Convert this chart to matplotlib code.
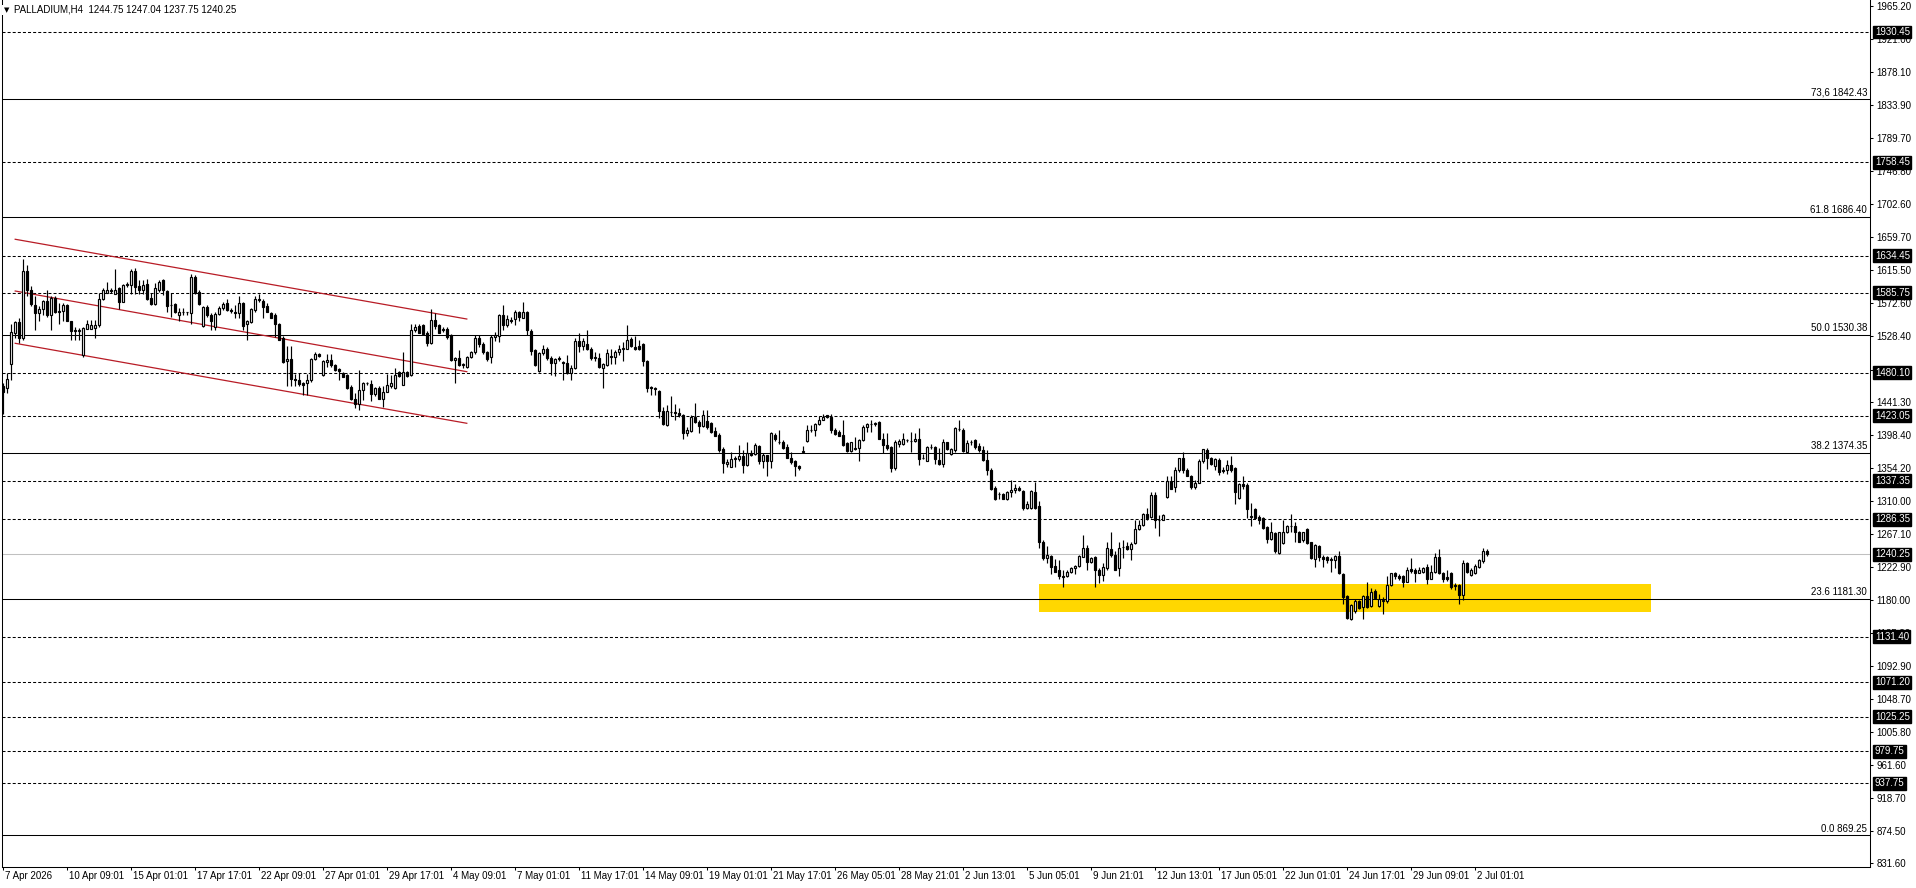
import numpy as np
import matplotlib
matplotlib.use('Agg')
import matplotlib.pyplot as plt
from matplotlib.patches import Rectangle

plt.rcParams['font.family'] = ['Liberation Sans', 'DejaVu Sans']
plt.rcParams['font.size'] = 7

# PALLADIUM H4 candles (open, high, low, close)
opens = [
    1462,1460,1492,1532,1547,1526,1614,1589,1570,1559,1564,1575,
    1556,1579,1560,1562,1569,1548,1536,1535,1503,1538,1538,1539,
    1543,1577,1586,1590,1584,1592,1574,1596,1596,1615,1595,1589,
    1597,1579,1571,1590,1602,1588,1570,1571,1556,1561,1560,1559,
    1606,1587,1542,1567,1556,1541,1558,1565,1572,1563,1560,1559,
    1572,1545,1547,1563,1577,1575,1568,1559,1556,1545,1526,1495,
    1498,1472,1471,1466,1466,1471,1498,1505,1477,1494,1497,1490,
    1485,1480,1477,1461,1446,1439,1457,1466,1465,1452,1460,1446,
    1455,1463,1460,1481,1464,1481,1477,1536,1542,1543,1533,1519,
    1550,1543,1536,1538,1530,1497,1500,1490,1488,1501,1508,1526,
    1518,1507,1501,1527,1528,1556,1543,1550,1551,1560,1553,1561,
    1535,1510,1483,1506,1512,1500,1493,1499,1494,1493,1480,1486,
    1522,1515,1518,1512,1500,1500,1487,1490,1502,1501,1508,1512,
    1512,1525,1514,1516,1518,1496,1461,1460,1456,1430,1411,1428,
    1428,1427,1424,1401,1403,1422,1415,1410,1416,1414,1403,1398,
    1379,1360,1355,1367,1366,1370,1358,1374,1373,1383,1363,1371,
    1363,1398,1389,1389,1382,1367,1363,1357,1376,1390,1404,1404,
    1412,1418,1424,1422,1404,1402,1398,1387,1377,1379,1380,1391,
    1409,1412,1413,1415,1393,1385,1382,1354,1386,1386,1391,1390,
    1390,1393,1367,1363,1382,1382,1365,1360,1388,1373,1378,1406,
    1405,1376,1388,1391,1383,1378,1365,1352,1328,1320,1320,1313,
    1322,1325,1328,1324,1301,1301,1323,1304,1257,1235,1238,1225,
    1219,1212,1211,1217,1222,1225,1237,1249,1230,1236,1220,1213,
    1222,1247,1239,1222,1250,1251,1247,1255,1273,1279,1293,1289,
    1319,1286,1286,1316,1337,1329,1351,1367,1352,1343,1329,1335,
    1363,1378,1367,1357,1365,1351,1351,1358,1354,1314,1333,1332,
    1290,1300,1290,1288,1276,1261,1268,1242,1255,1269,1277,1278,
    1270,1259,1273,1256,1234,1251,1236,1236,1234,1233,1238,1214,
    1185,1154,1165,1178,1171,1185,1172,1191,1172,1179,1179,1200,
    1215,1211,1211,1204,1221,1219,1216,1217,1224,1208,1217,1237,
    1215,1210,1215,1200,1200,1186,1228,1213,1215,1223,1231,1244.75,
]
highs = [
    1466,1480,1545,1549,1553,1631,1622,1595,1581,1568,1576,1589,
    1581,1581,1572,1572,1571,1549,1540,1539,1540,1550,1550,1550,
    1585,1592,1600,1592,1617,1593,1598,1600,1617,1618,1603,1603,
    1604,1585,1599,1603,1604,1590,1585,1572,1565,1565,1561,1611,
    1609,1590,1568,1570,1559,1560,1568,1574,1577,1565,1570,1582,
    1574,1550,1565,1581,1584,1577,1572,1560,1559,1546,1528,1515,
    1515,1479,1480,1468,1479,1499,1508,1506,1497,1505,1505,1492,
    1486,1481,1479,1464,1453,1484,1468,1468,1471,1461,1463,1462,
    1479,1477,1486,1483,1508,1483,1545,1544,1545,1545,1535,1564,
    1559,1545,1540,1541,1531,1501,1510,1493,1502,1509,1530,1530,
    1521,1509,1530,1534,1558,1570,1556,1554,1563,1562,1573,1562,
    1538,1512,1508,1517,1514,1502,1499,1502,1496,1503,1490,1526,
    1532,1526,1537,1514,1508,1506,1493,1511,1511,1510,1517,1521,
    1543,1527,1529,1523,1520,1497,1462,1461,1457,1435,1437,1449,
    1439,1433,1426,1409,1424,1440,1418,1431,1431,1415,1409,1400,
    1382,1366,1376,1370,1385,1378,1388,1378,1387,1384,1374,1372,
    1402,1400,1404,1391,1386,1376,1365,1358,1383,1411,1411,1414,
    1423,1426,1424,1426,1407,1404,1418,1388,1389,1395,1393,1411,
    1414,1418,1415,1416,1400,1400,1383,1391,1393,1401,1393,1402,
    1400,1407,1373,1383,1386,1383,1380,1392,1389,1380,1408,1417,
    1407,1391,1391,1393,1387,1383,1378,1354,1330,1323,1321,1324,
    1339,1333,1330,1325,1310,1325,1336,1310,1259,1251,1239,1234,
    1233,1219,1219,1223,1226,1239,1266,1252,1237,1238,1222,1228,
    1257,1269,1244,1257,1259,1257,1256,1286,1285,1295,1301,1322,
    1322,1292,1293,1343,1343,1355,1368,1375,1354,1345,1338,1366,
    1379,1380,1369,1367,1367,1356,1365,1370,1356,1335,1343,1334,
    1308,1301,1292,1289,1277,1283,1269,1270,1286,1279,1293,1283,
    1271,1270,1275,1257,1254,1253,1239,1238,1237,1239,1244,1215,
    1186,1175,1181,1180,1186,1204,1195,1194,1188,1184,1212,1216,
    1217,1214,1213,1224,1235,1222,1224,1224,1227,1226,1242,1247,
    1217,1219,1217,1202,1201,1233,1230,1222,1227,1234,1249,1247.04,
]
lows = [
    1426,1453,1471,1526,1519,1524,1581,1568,1537,1549,1556,1554,
    1537,1559,1545,1548,1548,1523,1523,1523,1501,1538,1538,1526,
    1541,1576,1585,1585,1584,1564,1573,1593,1584,1584,1584,1584,
    1576,1570,1570,1587,1583,1561,1554,1559,1549,1556,1556,1545,
    1584,1570,1541,1554,1536,1537,1556,1563,1562,1559,1552,1552,
    1536,1524,1546,1561,1574,1553,1560,1552,1527,1523,1493,1462,
    1462,1462,1463,1451,1451,1468,1497,1501,1476,1488,1488,1482,
    1471,1474,1458,1444,1433,1431,1444,1464,1443,1450,1445,1435,
    1454,1460,1458,1475,1464,1475,1476,1534,1532,1531,1515,1518,
    1538,1532,1534,1525,1495,1467,1489,1487,1487,1500,1505,1514,
    1505,1495,1493,1522,1521,1537,1540,1546,1543,1548,1552,1530,
    1504,1489,1481,1504,1497,1477,1476,1496,1470,1478,1471,1485,
    1508,1510,1510,1497,1495,1486,1460,1489,1492,1492,1503,1496,
    1511,1514,1510,1510,1489,1454,1451,1451,1420,1411,1410,1423,
    1417,1422,1392,1396,1402,1414,1401,1409,1406,1401,1396,1376,
    1347,1355,1355,1356,1364,1347,1357,1370,1371,1360,1354,1344,
    1354,1390,1386,1379,1367,1360,1344,1352,1375,1389,1402,1396,
    1411,1417,1420,1401,1398,1396,1383,1376,1376,1378,1364,1390,
    1402,1402,1410,1392,1374,1378,1349,1352,1382,1385,1388,1376,
    1389,1358,1366,1363,1379,1360,1358,1355,1378,1371,1376,1403,
    1376,1374,1385,1379,1376,1363,1345,1325,1312,1313,1313,1312,
    1316,1321,1324,1299,1300,1300,1300,1249,1233,1229,1214,1217,
    1208,1197,1210,1215,1214,1224,1236,1220,1228,1197,1202,1205,
    1220,1237,1220,1211,1235,1246,1233,1254,1272,1278,1286,1288,
    1275,1264,1285,1315,1327,1322,1349,1348,1343,1327,1326,1334,
    1361,1353,1358,1352,1345,1347,1346,1349,1307,1313,1327,1288,
    1277,1288,1280,1274,1255,1259,1242,1241,1254,1268,1269,1257,
    1256,1257,1254,1234,1223,1231,1223,1229,1217,1222,1214,1175,
    1154,1153,1163,1168,1154,1169,1170,1182,1171,1161,1176,1198,
    1207,1206,1197,1203,1215,1204,1215,1215,1201,1207,1216,1214,
    1203,1205,1194,1193,1175,1180,1216,1212,1214,1222,1229,1237.75,
]
closes = [
    1455,1472,1534,1547,1526,1615,1589,1571,1559,1564,1575,1556,
    1579,1560,1562,1569,1548,1535,1535,1537,1539,1544,1543,1543,
    1578,1589,1590,1588,1590,1574,1596,1598,1615,1594,1589,1596,
    1577,1571,1592,1600,1589,1568,1569,1560,1561,1560,1560,1606,
    1585,1571,1567,1556,1548,1558,1566,1571,1563,1562,1559,1572,
    1542,1549,1564,1577,1576,1567,1561,1553,1545,1524,1494,1498,
    1472,1471,1465,1464,1471,1498,1505,1502,1495,1497,1490,1484,
    1482,1475,1460,1445,1439,1457,1467,1466,1452,1460,1446,1455,
    1464,1467,1477,1476,1481,1476,1537,1540,1533,1531,1519,1550,
    1542,1533,1538,1527,1497,1500,1490,1491,1501,1508,1526,1518,
    1508,1498,1527,1530,1556,1543,1551,1548,1560,1554,1561,1536,
    1509,1490,1506,1512,1499,1493,1498,1498,1493,1480,1486,1522,
    1515,1522,1512,1500,1501,1488,1491,1506,1501,1508,1511,1512,
    1524,1515,1512,1512,1495,1460,1460,1459,1430,1412,1429,1428,
    1427,1424,1401,1404,1422,1415,1410,1424,1408,1402,1397,1378,
    1361,1362,1366,1366,1370,1358,1374,1372,1385,1363,1371,1363,
    1400,1393,1388,1381,1368,1362,1357,1354,1376,1405,1404,1413,
    1418,1422,1421,1404,1399,1397,1385,1377,1388,1381,1391,1409,
    1412,1412,1413,1393,1385,1380,1354,1389,1390,1392,1391,1390,
    1393,1366,1367,1382,1382,1366,1359,1388,1379,1379,1407,1406,
    1377,1387,1388,1382,1378,1365,1351,1327,1313,1320,1313,1323,
    1325,1328,1325,1302,1307,1324,1301,1256,1235,1239,1224,1217,
    1212,1210,1217,1222,1225,1238,1249,1230,1235,1220,1213,1223,
    1248,1239,1220,1248,1250,1247,1254,1274,1279,1294,1288,1319,
    1286,1285,1292,1337,1327,1351,1367,1351,1344,1329,1335,1363,
    1379,1367,1360,1366,1349,1350,1358,1352,1322,1333,1330,1300,
    1290,1288,1286,1275,1261,1269,1244,1269,1269,1277,1277,1269,
    1257,1269,1255,1235,1252,1236,1234,1233,1233,1238,1215,1184,
    1156,1173,1178,1169,1185,1171,1190,1183,1181,1180,1200,1215,
    1211,1209,1203,1220,1218,1215,1220,1222,1208,1217,1237,1215,
    1208,1207,1197,1198,1186,1228,1217,1220,1225,1232,1244,1240.25,
]

# price scale labels on the right
price_ticks = [1965.20, 1921.00, 1878.10, 1833.90, 1789.70, 1746.80, 1702.60,
               1659.70, 1615.50, 1572.60, 1528.40, 1484.20, 1441.30, 1398.40,
               1354.20, 1310.00, 1267.10, 1222.90, 1180.00, 1135.80, 1092.90,
               1048.70, 1005.80, 961.60, 918.70, 874.50, 831.60]

# horizontal support/resistance levels (dashed, black price box)
levels = [1930.45, 1758.45, 1634.45, 1585.75, 1480.10, 1423.05, 1337.35,
          1286.35, 1131.40, 1071.20, 1025.25, 979.75, 937.75]
last_price = 1240.25

# fibonacci levels
fib_names = ['73,6', '61.8', '50.0', '38.2', '23.6', '0.0']
fib_prices = [1842.43, 1686.40, 1530.38, 1374.35, 1181.30, 869.25]

# time axis labels, one every 16 bars
time_labels = ['7 Apr 2026', '10 Apr 09:01', '15 Apr 01:01', '17 Apr 17:01',
               '22 Apr 09:01', '27 Apr 01:01', '29 Apr 17:01', '4 May 09:01',
               '7 May 01:01', '11 May 17:01', '14 May 09:01', '19 May 01:01',
               '21 May 17:01', '26 May 05:01', '28 May 21:01', '2 Jun 13:01',
               '5 Jun 05:01', '9 Jun 21:01', '12 Jun 13:01', '17 Jun 05:01',
               '22 Jun 01:01', '24 Jun 17:01', '29 Jun 09:01', '2 Jul 01:01']
label_step = 16

# descending channel (bar index, price)
channel_x = [3.1, 116]
channel_upper = [1656.5, 1551.1]
channel_mid = [1588.1, 1481.5]
channel_lower = [1519.0, 1413.3]

# yellow demand zone
zone_start, zone_end = 259, 412
zone_low, zone_high = 1164.4, 1201.0

o = np.array(opens)
h = np.array(highs)
l = np.array(lows)
c = np.array(closes)
x = np.arange(len(o))

fig = plt.figure(figsize=(19.16, 8.88), dpi=100)
ax = fig.add_axes([2 / 1916, 21 / 888, 1868 / 1916, 867 / 888])
ax.set_xlim(-0.2, 466.8)
ax.set_ylim(826.9, 1972.7)

lw = 0.75
ax.add_patch(Rectangle((zone_start, zone_low), zone_end - zone_start,
                       zone_high - zone_low, facecolor='#FFD700',
                       edgecolor='none', zorder=1))

for p in levels:
    ax.axhline(p, color='black', lw=lw, dashes=(2.9, 2.0), zorder=2)
for p in fib_prices:
    ax.axhline(p, color='black', lw=lw, zorder=2)
ax.axhline(last_price, color='#c0c0c0', lw=lw, zorder=2)

for name, p in zip(fib_names, fib_prices):
    ax.annotate(f'{name} {p:.2f}', xy=(1, p), xycoords=('axes fraction', 'data'),
                xytext=(-2, 1), textcoords='offset points',
                ha='right', va='bottom', fontsize=7, color='black')

for yy in (channel_upper, channel_mid, channel_lower):
    ax.plot(channel_x, yy, color='#b81c26', lw=0.9, zorder=3)

# candles
top = np.maximum(h, np.maximum(o, c))
bot = np.minimum(l, np.minimum(o, c))
ax.vlines(x, bot, top, colors='black', lw=0.85, zorder=4)
up = c >= o
body_low = np.minimum(o, c)
body_h = np.maximum(np.abs(c - o), 0.4)
ax.bar(x, body_h, bottom=body_low, width=0.55,
       color=np.where(up, 'white', 'black'), edgecolor='black',
       linewidth=0.85, zorder=5)

# axes styling
for side in ('left', 'right', 'bottom'):
    ax.spines[side].set_linewidth(lw)
    ax.spines[side].set_color('black')
ax.spines['top'].set_visible(False)

ax.yaxis.tick_right()
ax.set_yticks(price_ticks)
ax.set_yticklabels([f'{v:.2f}' for v in price_ticks])
ax.tick_params(axis='y', direction='out', length=2.5, width=lw, pad=2,
               labelsize=7)

tick_pos = np.arange(len(time_labels)) * label_step
ax.set_xticks(tick_pos)
ax.set_xticklabels([])
ax.tick_params(axis='x', direction='out', length=2.5, width=lw)
for pos, lab in zip(tick_pos, time_labels):
    ax.annotate(lab, xy=(pos, 0), xycoords=('data', 'axes fraction'),
                xytext=(1.5, -3), textcoords='offset points',
                ha='left', va='top', fontsize=7)

# black price boxes on the scale
for p in levels + [last_price]:
    ax.annotate(f'{p:.2f}', xy=(1, p), xycoords=('axes fraction', 'data'),
                xytext=(3.5, 0), textcoords='offset points',
                ha='left', va='center', fontsize=7, color='white',
                bbox=dict(boxstyle='square,pad=0.15', fc='black', ec='black'),
                zorder=10, annotation_clip=False)

# title
fig.text(4 / 1916, 1 - 10 / 888, '\u25bc', fontsize=5, va='center', ha='left',
         family=['DejaVu Sans'],
         bbox=dict(boxstyle='square,pad=0.3', fc='white', ec='none'))
fig.text(14 / 1916, 1 - 10 / 888, 'PALLADIUM,H4  1244.75 1247.04 1237.75 1240.25',
         fontsize=7, va='center', ha='left',
         bbox=dict(boxstyle='square,pad=0.2', fc='white', ec='none'))

fig.savefig('out.png', dpi=100)
